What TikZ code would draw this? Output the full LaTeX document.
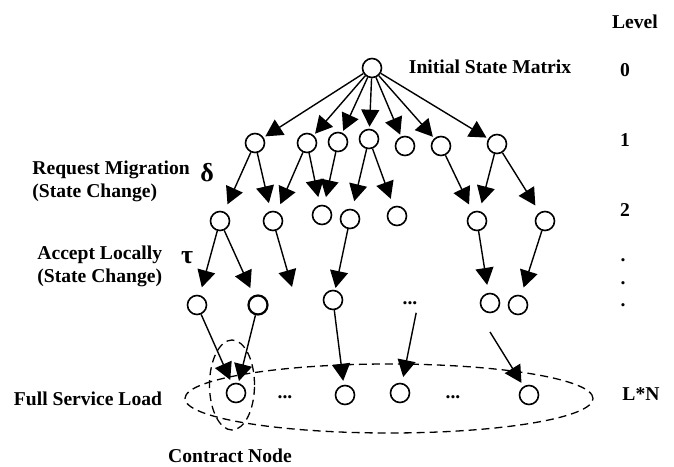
\documentclass[tikz,border=0pt]{standalone}
\usepackage{fontspec}
\setmainfont{Liberation Serif}
\usetikzlibrary{arrows.meta}

\begin{document}
\begin{tikzpicture}[
x=0.5pt, y=-0.5pt,
state/.style={circle, draw=black, line width=0.8pt, minimum size=9.5pt, inner sep=0pt},
lbl/.style={font=\bfseries\fontsize{9.8}{11.5}\selectfont, inner sep=0pt},
greek/.style={font=\bfseries\fontsize{13}{13}\selectfont, inner sep=0pt},
transit/.style={-{Triangle[length=8.5pt, width=9pt]}, line width=0.7pt, shorten >=1pt},
transit gap/.style={transit, shorten >=4pt},
group/.style={dash pattern=on 4pt off 2.5pt, line width=0.65pt},
]
\useasboundingbox (0,0) rectangle (674,466);
\node[state] (root) at (372,68) {};
\node[state] (a1) at (255,143) {};
\node[state] (a2) at (307,143) {};
\node[state] (a3) at (338,142) {};
\node[state] (a4) at (369,139) {};
\node[state] (a5) at (405,146) {};
\node[state] (a6) at (441,146) {};
\node[state] (a7) at (497,144) {};
\node[state] (b1) at (220,221) {};
\node[state] (b2) at (273,221) {};
\node[state] (b3) at (322,215) {};
\node[state] (b4) at (350,219) {};
\node[state] (b5) at (397,216) {};
\node[state] (b6) at (477,221) {};
\node[state] (b7) at (545,221) {};
\node[state] (c1) at (197,305) {};
\node[state, line width=1.1pt] (c2) at (258,305) {};
\node[state] (c3) at (333,300) {};
\node[lbl] (dots3) at (410,303) {...};
\node[state] (c4) at (490,303) {};
\node[state] (c5) at (518,305) {};
\node[state] (d1) at (236,393) {};
\node[lbl] (dotsA) at (285,397) {...};
\node[state] (d2) at (345,395) {};
\node[state] (d3) at (400,393) {};
\node[lbl] (dotsB) at (453,397) {...};
\node[state] (d4) at (529,395) {};
\coordinate (drop) at (292,287);
\coordinate (loose) at (490,332);

\draw[transit] (root) -- (a1);
\draw[transit] (root) -- (a2);
\draw[transit] (root) -- (a3);
\draw[transit] (root) -- (a4);
\draw[transit] (root) -- (a5);
\draw[transit] (root) -- (a6);
\draw[transit] (root) -- (a7);
\draw[transit gap] (a1) -- (b1);
\draw[transit gap] (a1) -- (b2);
\draw[transit gap] (a2) -- (b2);
\draw[transit gap] (a2) -- (b3);
\draw[transit gap] (a3) -- (b3);
\draw[transit gap] (a4) -- (b4);
\draw[transit gap] (a4) -- (b5);
\draw[transit gap] (a6) -- (b6);
\draw[transit gap] (a7) -- (b6);
\draw[transit gap] (a7) -- (b7);
\draw[transit gap] (b1) -- (c1);
\draw[transit gap] (b1) -- (c2);
\draw[transit, shorten >=0pt] (b2) -- (drop);
\draw[transit] (b4) -- (c3);
\draw[transit gap] (b6) -- (c4);
\draw[transit gap] (b7) -- (c5);
\draw[transit, shorten >=2pt] (c1) -- (d1);
\draw[transit] (c2) -- (d1);
\draw[transit, shorten >=2pt] (c3) -- (d2);
\draw[transit, shorten >=3pt, shorten <=4pt] (dots3.south east) -- (d3);
\draw[transit, shorten >=2pt] (loose) -- (d4);

\draw[group] (389,398.5) ellipse [x radius=102pt, y radius=17.25pt];
\draw[group] (232,385) ellipse [x radius=11.25pt, y radius=22.5pt];

\node[lbl] (title) at (490,67) {Initial State Matrix};
\node[lbl] (level) at (635,22) {Level};
\node[lbl] (lev0) at (625,70) {0};
\node[lbl] (lev1) at (625,140) {1};
\node[lbl] (lev2) at (625,210) {2};
\node[lbl] (vdot1) at (623,260) {.};
\node[lbl] (vdot2) at (623,283) {.};
\node[lbl] (vdot3) at (623,305) {.};
\node[lbl] (levLN) at (641,394) {L*N};
\node[lbl, anchor=west, align=left] (request) at (32,181.5) {Request Migration\\(State Change)};
\node[greek] (delta) at (207,173) {δ};
\node[lbl, anchor=west, align=left] (accept) at (37,266) {Accept Locally\\(State Change)};
\node[greek] (tau) at (187,258) {τ};
\node[lbl] (full) at (88,399) {Full Service Load};
\node[lbl] (contract) at (230,456) {Contract Node};
\end{tikzpicture}
\end{document}
